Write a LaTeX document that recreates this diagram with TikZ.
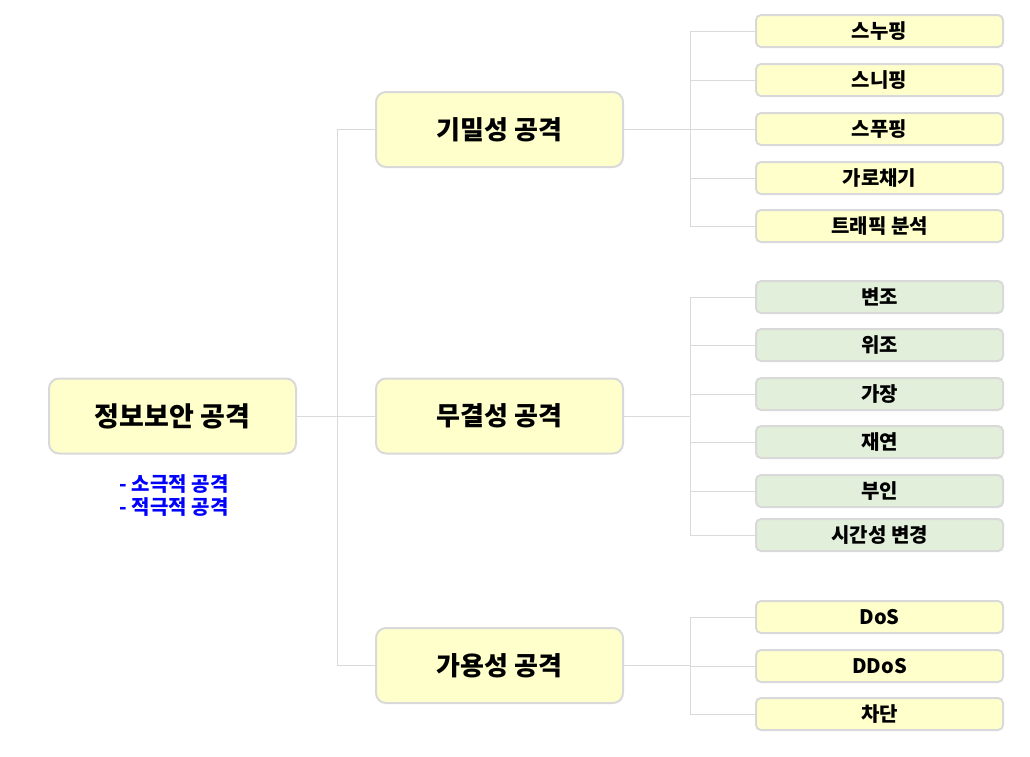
\documentclass[tikz,border=0pt]{standalone}
\usepackage{fontspec}
\setmainfont{Noto Sans CJK KR}
\usetikzlibrary{positioning}
\definecolor{boxyellow}{HTML}{FFFFCC}
\definecolor{boxgreen}{HTML}{E2EFDA}
\definecolor{boxline}{HTML}{D9D9D9}
\definecolor{treeline}{HTML}{DADADA}

\begin{document}
\begin{tikzpicture}[x=1pt,y=-1pt,
 box/.style={draw=boxline,line width=2pt,rounded corners=10pt,fill=boxyellow,minimum width=247pt,minimum height=75pt,inner sep=0pt,font=\fontsize{26}{30}\selectfont\bfseries},
 leaf/.style={box,minimum height=32pt,rounded corners=5pt,font=\fontsize{20}{24}\selectfont\bfseries},
 link/.style={draw=treeline,line width=1pt}]
 \useasboundingbox (0,0) rectangle (1030,756);
 \node[box,font=\fontsize{27}{30}\selectfont\bfseries] (root) at (172.5,416) {정보보안 공격};
 \node[text=blue,align=left,font=\fontsize{20}{23}\selectfont\bfseries] (note) at (174,495.5) {- 소극적 공격\\- 적극적 공격};
 \node[box] (conf) at (499.5,129.5) {기밀성 공격};
 \node[box] (integ) at (499.5,416) {무결성 공격};
 \node[box] (avail) at (499.5,665.5) {가용성 공격};
 \coordinate (rj) at (337,416);
 \draw[link] (root.east) -- (rj);
 \draw[link] (conf.west) -| (rj);
 \draw[link] (integ.west) -- (rj);
 \draw[link] (avail.west) -| (rj);
 \coordinate (cj) at (690,129.5);
 \coordinate (ij) at (690,416);
 \coordinate (aj) at (690,665.5);
 \draw[link] (conf.east) -- (cj);
 \draw[link] (integ.east) -- (ij);
 \draw[link] (avail.east) -- (aj);
 \foreach \name/\y/\txt in {c1/31/스누핑,c2/80/스니핑,c3/129/스푸핑,c4/178/가로채기,c5/226/트래픽 분석}{
  \node[leaf] (\name) at (879.5,\y) {\txt};
  \draw[link] (\name.west) -| (cj);
 }
 \foreach \name/\y/\txt in {i1/297/변조,i2/345/위조,i3/394/가장,i4/442/재연,i5/491/부인,i6/535/시간성 변경}{
  \node[leaf,fill=boxgreen] (\name) at (879.5,\y) {\txt};
  \draw[link] (\name.west) -| (ij);
 }
 \foreach \name/\y/\txt in {a1/617/DoS,a2/666/DDoS,a3/714/차단}{
  \node[leaf] (\name) at (879.5,\y) {\txt};
  \draw[link] (\name.west) -| (aj);
 }
\end{tikzpicture}
\end{document}
